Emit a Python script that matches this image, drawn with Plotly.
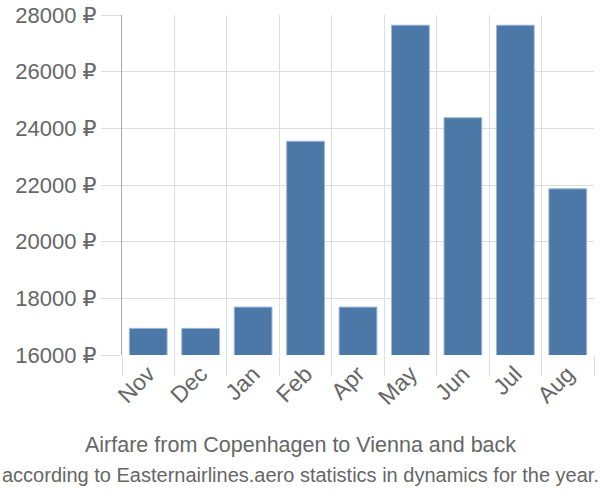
import plotly.graph_objects as go

months = ["Nov", "Dec", "Jan", "Feb", "Apr", "May", "Jun", "Jul", "Aug"]
prices = [16940, 16940, 17690, 23545, 17690, 27640, 24375, 27640, 21866]
y_ticks = [16000, 18000, 20000, 22000, 24000, 26000, 28000]
y_tick_text = [f"{v} ₽" for v in y_ticks]

title_line1 = "Airfare from Copenhagen to Vienna and back"
title_line2 = "according to Easternairlines.aero statistics in dynamics for the year."

fig = go.Figure(go.Bar(
    x=months, y=prices,
    marker=dict(color="#4C78A8", line=dict(color="#9db7d6", width=1)),
))

grid = "#dddddd"
FONT = "Liberation Sans, Arial, DejaVu Sans, sans-serif"
fig.update_layout(
    width=600, height=500,
    margin=dict(l=122, r=6, t=15, b=145),
    paper_bgcolor="white", plot_bgcolor="white",
    bargap=0.28,
    showlegend=False,
    font=dict(family=FONT, color="#666666", size=20),
    xaxis=dict(
        tickson="boundaries", ticks="outside", ticklen=20, tickcolor=grid,
        showgrid=True, gridcolor=grid, gridwidth=1,
        tickangle=-45, tickfont=dict(size=23, color="#666666"),
        showline=False, zeroline=False, automargin=False,
    ),
    yaxis=dict(
        range=[16000, 28000], tickmode="array", tickvals=y_ticks, ticktext=y_tick_text,
        ticks="outside", ticklen=20, tickcolor=grid,
        showgrid=True, gridcolor=grid, gridwidth=1,
        showline=True, linecolor="#aaaaaa", linewidth=1,
        tickfont=dict(size=22, color="#666666"), zeroline=False, automargin=False,
    ),
)
ph = 500 - 15 - 145
pw = 600 - 122 - 6
for text, ypix, size in [(title_line1, 445, 21.5), (title_line2, 475, 20)]:
    fig.add_annotation(
        text=text, xref="paper", yref="paper", showarrow=False,
        x=(300 - 122) / pw, y=(500 - 145 - ypix) / ph,
        xanchor="center", yanchor="middle",
        font=dict(size=size, color="#666666", family=FONT),
    )

fig.write_html("out.html")
